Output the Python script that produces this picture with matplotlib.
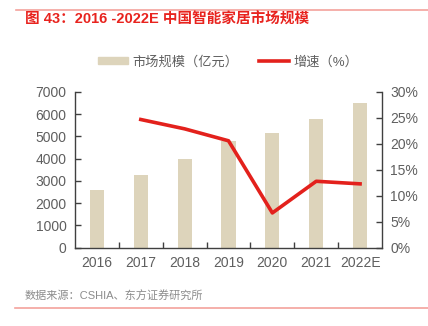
import matplotlib.pyplot as plt
from matplotlib.lines import Line2D
from matplotlib.patches import Patch
from matplotlib.ticker import FuncFormatter, FixedLocator

plt.rcParams['font.family'] = ['Liberation Sans', 'Noto Sans CJK SC', 'DejaVu Sans']

years = ['2016', '2017', '2018', '2019', '2020', '2021', '2022E']
market_size = [2600, 3250, 4000, 4810, 5140, 5790, 6500]   # 亿元
growth = [None, 24.7, 22.9, 20.6, 6.7, 12.8, 12.3]          # %

bar_color = '#DDD4BB'
line_color = '#E3211C'
text_color = '#5F5F5F'
rule_color = '#F4A29C'

fig = plt.figure(figsize=(4.28, 3.26), dpi=100)

# 顶部/底部装饰线
fig.add_artist(Line2D([16 / 428, 1], [1 - 10 / 326] * 2, color=rule_color, lw=1.2))
fig.add_artist(Line2D([15 / 428, 1], [1 - 308 / 326] * 2, color=rule_color, lw=1.2))

fig.text(25 / 428, 1 - 20 / 326, '图 43：2016 -2022E 中国智能家居市场规模', color='#E8231E',
         fontsize=10.5, fontweight='bold', va='center', ha='left')
fig.text(25 / 428, 1 - 296 / 326, '数据来源：CSHIA、东方证券研究所', color='#8C8C8C',
         fontsize=8, va='center', ha='left')

ax = fig.add_axes([75 / 428, 1 - 247.7 / 326, 307 / 428, 155.7 / 326])
x = list(range(len(years)))
ax.bar(x, market_size, width=0.32, color=bar_color, zorder=1)
ax.set_xlim(-0.5, len(years) - 0.5)
ax.set_ylim(0, 7000)
ax.set_yticks(range(0, 7001, 1000))
ax.xaxis.set_major_locator(FixedLocator([i + 0.5 for i in x[:-1]]))
ax.xaxis.set_major_formatter(FuncFormatter(lambda v, p: ''))
ax.set_xticks(x, minor=True)
ax.set_xticklabels(years, minor=True)
ax.tick_params(axis='x', which='major', direction='in', length=4, color='#404040', width=1)
ax.tick_params(axis='x', which='minor', length=0, pad=6, labelsize=10, labelcolor=text_color)
ax.tick_params(axis='y', direction='in', length=4, color='#404040', width=1, pad=6,
               labelsize=10, labelcolor=text_color)
for s in ['top', 'right']:
    ax.spines[s].set_visible(False)
for s in ['left', 'bottom']:
    ax.spines[s].set_color('#404040')
    ax.spines[s].set_linewidth(1)

ax2 = ax.twinx()
gx = [i for i, g in zip(x, growth) if g is not None]
gy = [g for g in growth if g is not None]
ax2.plot(gx, gy, color=line_color, lw=2.6, zorder=3)
ax2.set_ylim(0, 30)
ax2.set_yticks(range(0, 31, 5))
ax2.yaxis.set_major_formatter(FuncFormatter(lambda v, p: f'{v:.0f}%'))
ax2.tick_params(axis='y', direction='in', length=4, color='#404040', width=1, pad=6,
                labelsize=10, labelcolor=text_color)
for s in ['top', 'left', 'bottom']:
    ax2.spines[s].set_visible(False)
ax2.spines['right'].set_color('#404040')
ax2.spines['right'].set_linewidth(1)

handles = [Patch(color=bar_color), Line2D([0], [0], color=line_color, lw=2.6)]
fig.legend(handles, ['市场规模（亿元）', '增速（%）'], loc='center',
           bbox_to_anchor=(228 / 428, 1 - 62 / 326), ncol=2, frameon=False,
           fontsize=9.5, labelcolor=text_color, handlelength=2.3, handleheight=0.5,
           columnspacing=1.6, handletextpad=0.3)

fig.savefig('out.png', dpi=100)
